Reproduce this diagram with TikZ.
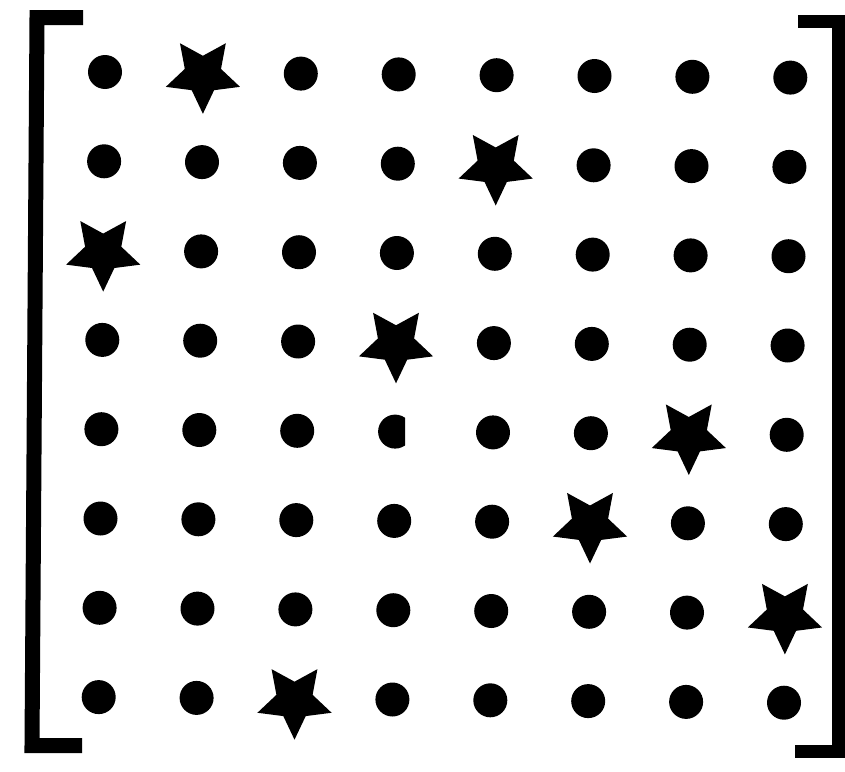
\documentclass[tikz,border=0pt]{standalone}
\usetikzlibrary{shapes.geometric}
\begin{document}
\begin{tikzpicture}[x=1pt,y=-1pt,
  dot/.style={circle,fill=black,inner sep=0pt,minimum size=34pt},
  queen/.style={star,star points=5,star point ratio=2.05,fill=black,inner sep=0pt,minimum size=78pt,shape border rotate=180},
  bracket/.style={line width=15pt,line join=miter,line cap=butt}]
\useasboundingbox (0,0) rectangle (845,771);
% brackets
\draw[bracket] (83,17.5) -- (37,17.5) -- (32,745.5) -- (82,745.5);
\draw[bracket,line width=13pt] (798,21.5) -- (838.5,21.5) -- (838.5,751.5) -- (795,751.5);
% grid: queen positions by row -> column
\foreach \r/\q in {1/2,2/5,3/1,4/4,5/7,6/6,7/8,8/3}{
  \foreach \c in {1,...,8}{
    \pgfmathsetmacro{\xx}{105+(\c-1)*97.9-(\r-1)*0.9}
    \pgfmathsetmacro{\yy}{72+(\r-1)*89.3+(\c-1)*0.8}
    \ifnum\c=\q
      \node[queen] (q\r\c) at (\xx,\yy+2) {};
    \else
      \ifnum\r=5 \ifnum\c=4
        \begin{scope}
          \clip (\xx-20,\yy-20) rectangle (\xx+10,\yy+20);
          \node[dot] (d\r\c) at (\xx,\yy) {};
        \end{scope}
      \else
        \node[dot] (d\r\c) at (\xx,\yy) {};
      \fi
      \else
        \node[dot] (d\r\c) at (\xx,\yy) {};
      \fi
    \fi
  }
}
\end{tikzpicture}
\end{document}
